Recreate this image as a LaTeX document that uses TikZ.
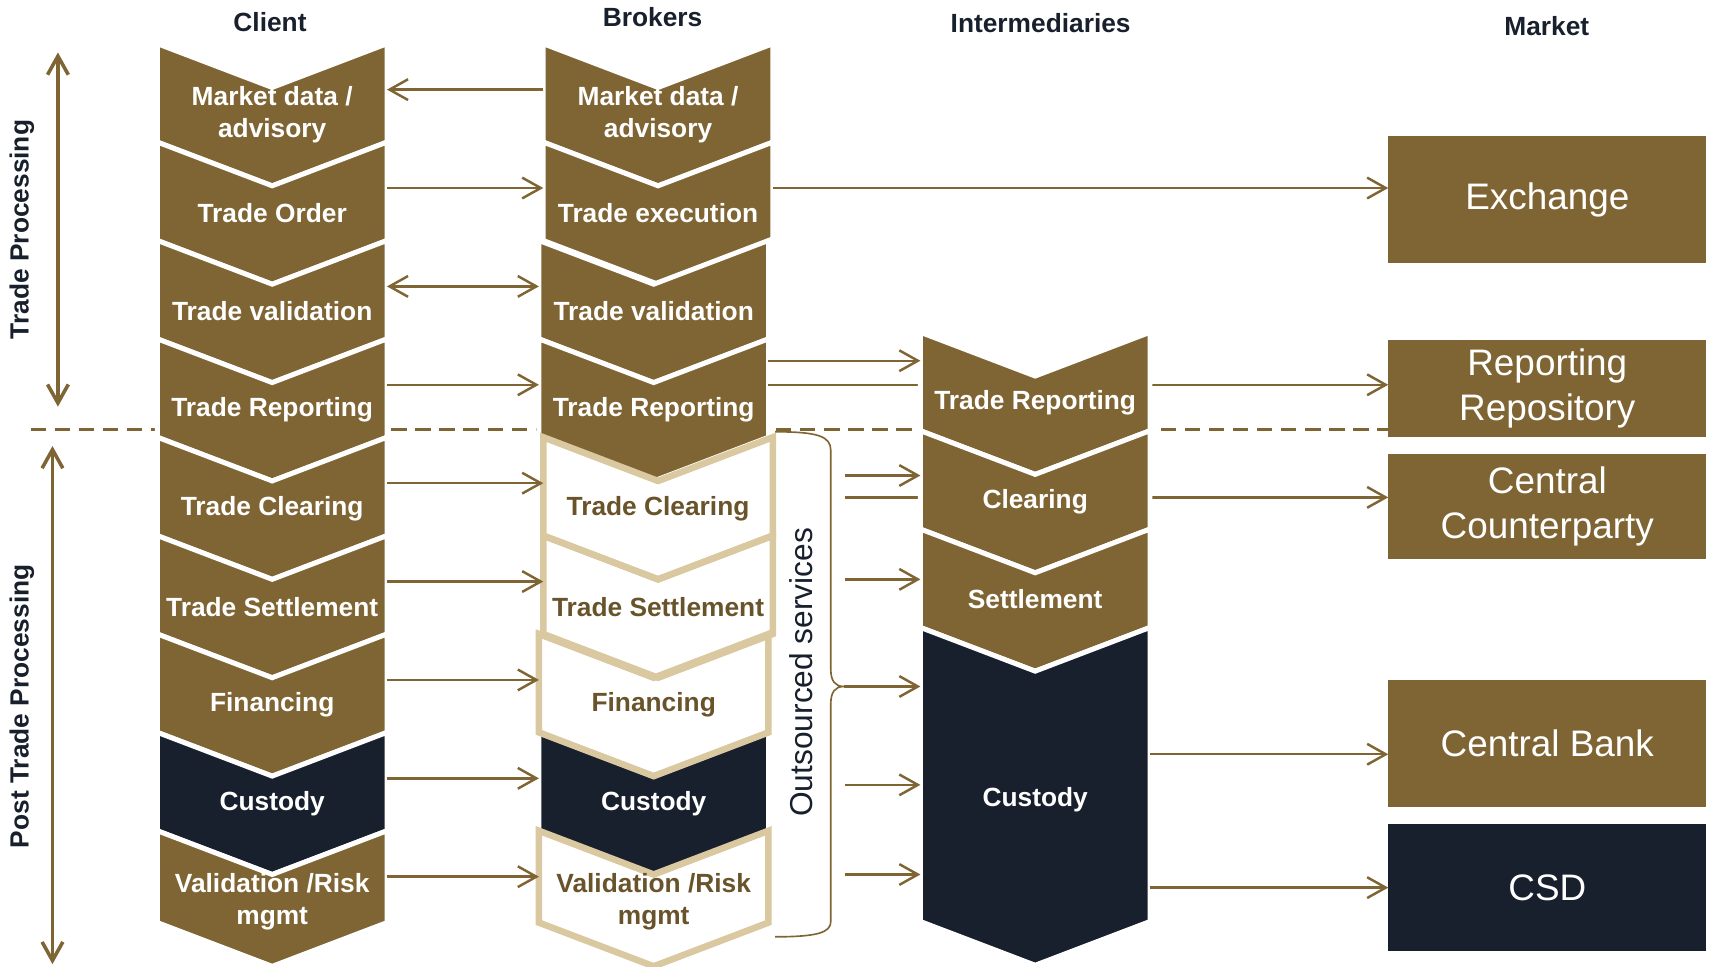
\documentclass[tikz,border=0pt]{standalone}
\usepackage{fontspec}
\setmainfont{Liberation Sans}
\usetikzlibrary{arrows.meta}

\begin{document}
\begin{tikzpicture}[x=0.2mm, y=-0.2mm,
  >={Straight Barb[length=3.4mm,width=3.8mm]},
  chev/.style={draw=white, line width=0.9mm},
  outchev/.style={draw=mytan, line width=1.2mm},
  lbl/.style={text=white, font=\bfseries\fontsize{13.7}{16.5}\selectfont, align=center, minimum width=42mm, inner sep=0pt, outer sep=0pt, yshift=-0.4mm},
  mbox/.style={text=white, font=\fontsize{19.2}{23.3}\selectfont, align=center, minimum width=58.2mm, inner sep=0pt, outer sep=0pt},
  head/.style={text=mynavy, font=\bfseries\fontsize{13.7}{16}\selectfont},
  link/.style={draw=mybrown, line width=0.45mm, ->}]

% Define colors
\definecolor{mybrown}{RGB}{128,101,52}
\definecolor{mynavy}{RGB}{24,32,45}
\definecolor{mytan}{RGB}{217,200,160}
\definecolor{mydark}{RGB}{104,83,42}

\useasboundingbox (0,0) rectangle (1568,884);

% Column headers
\node[head] (hclient) at (247,20) {Client};
\node[head] (hbroker) at (597,16) {Brokers};
\node[head] (hinter) at (952,21) {Intermediaries};
\node[head] (hmarket) at (1415,24) {Market};

% Market boxes
\node[mbox, fill=mybrown, minimum height=23.4mm] (ex) at (1415.5,182.5) {Exchange};
\node[mbox, fill=mybrown, minimum height=17.8mm] (rr) at (1415.5,355.5) {Reporting\\Repository};
\node[mbox, fill=mybrown, minimum height=19.2mm] (cc) at (1415.5,463) {Central\\Counterparty};
\node[mbox, fill=mybrown, minimum height=23.2mm] (cb) at (1415.5,680) {Central Bank};
\node[mbox, fill=mynavy, minimum height=23.2mm] (csd) at (1415.5,812) {CSD};

% Dashed separator
\coordinate (sep) at (28,393);
\draw[mybrown, line width=0.6mm, dash pattern=on 2.8mm off 1.6mm] (sep) -- (sep -| rr.west);

% Client chevrons
\filldraw[chev, fill=mybrown] (144,40) -- ++(105,40) -- ++(105,-40) -- ++(0,90) -- ++(-105,40) -- ++(-105,-40) -- cycle;
\filldraw[chev, fill=mybrown] (144,130) -- ++(105,40) -- ++(105,-40) -- ++(0,90) -- ++(-105,40) -- ++(-105,-40) -- cycle;
\filldraw[chev, fill=mybrown] (144,220) -- ++(105,40) -- ++(105,-40) -- ++(0,90) -- ++(-105,40) -- ++(-105,-40) -- cycle;
\filldraw[chev, fill=mybrown] (144,310) -- ++(105,40) -- ++(105,-40) -- ++(0,90) -- ++(-105,40) -- ++(-105,-40) -- cycle;
\filldraw[chev, fill=mybrown] (144,400) -- ++(105,40) -- ++(105,-40) -- ++(0,90) -- ++(-105,40) -- ++(-105,-40) -- cycle;
\filldraw[chev, fill=mybrown] (144,490) -- ++(105,40) -- ++(105,-40) -- ++(0,90) -- ++(-105,40) -- ++(-105,-40) -- cycle;
\filldraw[chev, fill=mybrown] (144,580) -- ++(105,40) -- ++(105,-40) -- ++(0,90) -- ++(-105,40) -- ++(-105,-40) -- cycle;
\filldraw[chev, fill=mynavy] (144,670) -- ++(105,40) -- ++(105,-40) -- ++(0,90) -- ++(-105,40) -- ++(-105,-40) -- cycle;
\filldraw[chev, fill=mybrown] (144,760) -- ++(105,40) -- ++(105,-40) -- ++(0,84) -- ++(-105,40) -- ++(-105,-40) -- cycle;

% Client labels
\node[lbl] (cl1) at (249,103) {Market data /\\advisory};
\node[lbl] (cl2) at (249,193) {Trade Order};
\node[lbl] (cl3) at (249,283) {Trade validation};
\node[lbl] (cl4) at (249,373) {Trade Reporting};
\node[lbl] (cl5) at (249,463) {Trade Clearing};
\node[lbl] (cl6) at (249,553) {Trade Settlement};
\node[lbl] (cl7) at (249,643) {Financing};
\node[lbl] (cl8) at (249,733) {Custody};
\node[lbl] (cl9) at (249,823) {Validation /Risk\\mgmt};

% Broker chevrons
\filldraw[chev, fill=mybrown] (497,40) -- ++(105,40) -- ++(105,-40) -- ++(0,90) -- ++(-105,40) -- ++(-105,-40) -- cycle;
\filldraw[chev, fill=mybrown] (497,130) -- ++(105,40) -- ++(105,-40) -- ++(0,90) -- ++(-105,40) -- ++(-105,-40) -- cycle;
\filldraw[chev, fill=mybrown] (493,220) -- ++(105,40) -- ++(105,-40) -- ++(0,90) -- ++(-105,40) -- ++(-105,-40) -- cycle;
\filldraw[chev, fill=mybrown] (493,310) -- ++(105,40) -- ++(105,-40) -- ++(0,90) -- ++(-105,40) -- ++(-105,-40) -- cycle;
\filldraw[chev, fill=mynavy] (493,670) -- ++(105,40) -- ++(105,-40) -- ++(0,90) -- ++(-105,40) -- ++(-105,-40) -- cycle;

% Outsourced broker services (outlined)
\draw[outchev] (497,400) -- ++(105,40) -- ++(105,-40) -- ++(0,90) -- ++(-105,40) -- ++(-105,-40) -- cycle;
\draw[outchev] (497,490) -- ++(105,40) -- ++(105,-40) -- ++(0,90) -- ++(-105,40) -- ++(-105,-40) -- cycle;
\draw[outchev] (493,580) -- ++(105,40) -- ++(105,-40) -- ++(0,90) -- ++(-105,40) -- ++(-105,-40) -- cycle;
\draw[outchev] (493,760) -- ++(105,40) -- ++(105,-40) -- ++(0,84) -- ++(-105,40) -- ++(-105,-40) -- cycle;

% Broker labels
\node[lbl] (br1) at (602,103) {Market data /\\advisory};
\node[lbl] (br2) at (602,193) {Trade execution};
\node[lbl] (br3) at (598,283) {Trade validation};
\node[lbl] (br4) at (598,373) {Trade Reporting};
\node[lbl, text=mydark] (br5) at (602,463) {Trade Clearing};
\node[lbl, text=mydark] (br6) at (602,553) {Trade Settlement};
\node[lbl, text=mydark] (br7) at (598,643) {Financing};
\node[lbl] (br8) at (598,733) {Custody};
\node[lbl, text=mydark] (br9) at (598,823) {Validation /Risk\\mgmt};

% Lines running behind the intermediaries
\coordinate (b4b) at ([yshift=4.6mm]br4.east);
\draw[link] (b4b) -- (b4b -| rr.west);
\coordinate (os2) at (773,455);
\draw[link] (os2) -- (os2 -| cc.west);

% Intermediary chevrons
\filldraw[chev, fill=mybrown] (842,304) -- ++(105,40) -- ++(105,-40) -- ++(0,90) -- ++(-105,40) -- ++(-105,-40) -- cycle;
\filldraw[chev, fill=mybrown] (842,394) -- ++(105,40) -- ++(105,-40) -- ++(0,90) -- ++(-105,40) -- ++(-105,-40) -- cycle;
\filldraw[chev, fill=mybrown] (842,484) -- ++(105,40) -- ++(105,-40) -- ++(0,90) -- ++(-105,40) -- ++(-105,-40) -- cycle;
\filldraw[chev, fill=mynavy] (842,574) -- ++(105,40) -- ++(105,-40) -- ++(0,269) -- ++(-105,40) -- ++(-105,-40) -- cycle;

% Intermediary labels
\node[lbl] (im1) at (947,366) {Trade Reporting};
\node[lbl] (im2) at (947,457) {Clearing};
\node[lbl] (im3) at (947,546) {Settlement};
\node[lbl] (im4) at (947,730) {Custody};

% Client - broker arrows
\draw[link] ([yshift=4.6mm]br1.west) -- ([yshift=4.6mm]cl1.east);
\draw[link] ([yshift=4.6mm]cl2.east) -- ([yshift=4.6mm]br2.west);
\draw[link, <->] ([yshift=4.6mm]cl3.east) -- ([yshift=4.6mm]br3.west);
\draw[link] ([yshift=4.6mm]cl4.east) -- ([yshift=4.6mm]br4.west);
\draw[link] ([yshift=4.6mm]cl5.east) -- ([yshift=4.6mm]br5.west);
\draw[link] ([yshift=4.6mm]cl6.east) -- ([yshift=4.6mm]br6.west);
\draw[link] ([yshift=4.6mm]cl7.east) -- ([yshift=4.6mm]br7.west);
\draw[link] ([yshift=4.6mm]cl8.east) -- ([yshift=4.6mm]br8.west);
\draw[link] ([yshift=4.6mm]cl9.east) -- ([yshift=4.6mm]br9.west);

% Broker - market / intermediary arrows
\coordinate (b2r) at ([yshift=4.6mm]br2.east);
\draw[link] (b2r) -- (b2r -| ex.west);
\coordinate (b4a) at ([yshift=9mm]br4.east);
\draw[link] (b4a) -- (b4a -| im1.west);

% Outsourced services into intermediaries
\coordinate (os1) at (773,435);
\coordinate (os3) at (773,530);
\coordinate (tip) at (772,628);
\coordinate (os5) at (773,718);
\coordinate (os6) at (773,800);
\draw[link] (os1) -- (os1 -| im2.west);
\draw[link] (os3) -- (os3 -| im3.west);
\draw[link] (tip) -- (tip -| im4.west);
\draw[link] (os5) -- (os5 -| im4.west);
\draw[link] (os6) -- (os6 -| im4.west);

% Brace
\draw[mybrown, line width=0.3mm] (709,395) .. controls (748,395) and (760,399) .. (760,412) -- (760,612) .. controls (760,623) and (764,628) .. (tip) .. controls (764,628) and (760,633) .. (760,644) -- (760,843) .. controls (760,853) and (748,857) .. (709,857);
\node[rotate=90, text=mynavy, font=\fontsize{16.5}{20}\selectfont] (outs) at (733,615) {Outsourced services};

% Intermediary - market arrows
\coordinate (cbin) at ([yshift=-2mm]cb.west);
\draw[link] (cbin -| im4.east) -- (cbin);
\draw[link] (csd.west -| im4.east) -- (csd.west);

% Phase arrows
\coordinate (tp1) at (53,48);
\coordinate (tp2) at (53,372);
\coordinate (pt1) at (48,408);
\coordinate (pt2) at (48,882);
\draw[mybrown, line width=0.65mm, <->] (tp1) -- (tp2);
\draw[mybrown, line width=0.65mm, <->] (pt1) -- (pt2);
\node[head, rotate=90] (ltp) at (20,210) {Trade Processing};
\node[head, rotate=90] (lptp) at (20,646) {Post Trade Processing};

\end{tikzpicture}
\end{document}
